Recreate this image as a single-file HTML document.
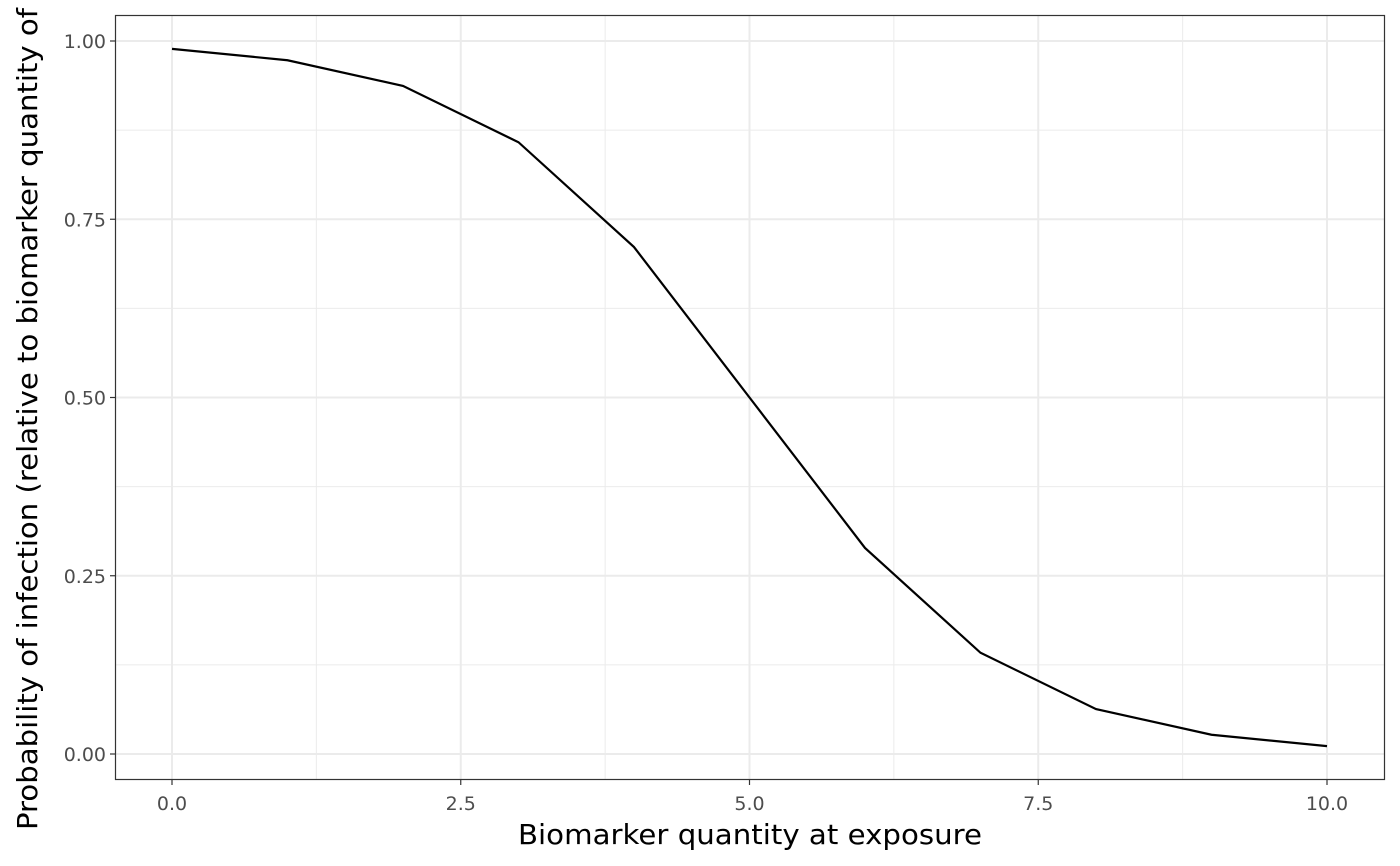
<!DOCTYPE html>
<html><head><meta charset="utf-8"><style>
html,body{margin:0;padding:0;background:#fff;}
svg{display:block;font-family:"DejaVu Sans","Liberation Sans",sans-serif;}
</style></head><body>
<svg id="chart" width="1400" height="866"></svg>
<script>
const xValues=[0,1,2,3,4,5,6,7,8,9,10];
const yValues=[0.989,0.973,0.937,0.858,0.711,0.5,0.289,0.142,0.063,0.027,0.011];
const xTicks=[0,2.5,5,7.5,10];
const xTickLabels=["0.0","2.5","5.0","7.5","10.0"];
const yTicks=[0,0.25,0.5,0.75,1];
const yTickLabels=["0.00","0.25","0.50","0.75","1.00"];
const xMinor=[1.25,3.75,6.25,8.75];
const yMinor=[0.125,0.375,0.625,0.875];

const NS="http://www.w3.org/2000/svg";
const svg=document.getElementById('chart');
const P={l:115,r:1385,t:15,b:780};
const sx=v=>172+v*115.5;
const sy=v=>754-v*713;
function mk(tag,attrs,parent){const e=document.createElementNS(NS,tag);for(const k in attrs)e.setAttribute(k,attrs[k]);(parent||svg).appendChild(e);return e;}

const bg=mk('rect',{x:P.l,y:P.t,width:P.r-P.l,height:P.b-P.t,fill:'#fff'});



xMinor.forEach(v=>{const l=mk('line',{x1:sx(v),x2:sx(v),y1:P.t,y2:P.b,stroke:'#ebebeb','stroke-width':1});

});
yMinor.forEach(v=>{const l=mk('line',{x1:P.l,x2:P.r,y1:sy(v),y2:sy(v),stroke:'#ebebeb','stroke-width':1});

});
xTicks.forEach((v,i)=>{const l=mk('line',{x1:sx(v),x2:sx(v),y1:P.t,y2:P.b,stroke:'#ebebeb','stroke-width':2});


const t=mk('line',{x1:sx(v),x2:sx(v),y1:P.b,y2:P.b+5,stroke:'#333','stroke-width':1.2});


const tx=mk('text',{x:sx(v),y:810,'text-anchor':'middle','font-size':19,fill:'#4d4d4d'});tx.textContent=xTickLabels[i];

});
yTicks.forEach((v,i)=>{const l=mk('line',{x1:P.l,x2:P.r,y1:sy(v),y2:sy(v),stroke:'#ebebeb','stroke-width':2});


const t=mk('line',{x1:P.l-5,x2:P.l,y1:sy(v),y2:sy(v),stroke:'#333','stroke-width':1.2});


const tx=mk('text',{x:P.l-9,y:sy(v)+7,'text-anchor':'end','font-size':19,fill:'#4d4d4d'});tx.textContent=yTickLabels[i];

});

const line=mk('polyline',{points:xValues.map((x,i)=>sx(x)+','+sy(yValues[i])).join(' '),fill:'none',stroke:'#000','stroke-width':2.2});



const border=mk('rect',{x:P.l+0.5,y:P.t+0.5,width:P.r-P.l-1,height:P.b-P.t-1,fill:'none',stroke:'#333','stroke-width':1.2});



const xt=mk('text',{x:750,y:844,'text-anchor':'middle','font-size':28,fill:'#000',textLength:464,lengthAdjust:'spacingAndGlyphs'});xt.textContent='Biomarker quantity at exposure';


const yt=mk('text',{x:0,y:0,'text-anchor':'start','font-size':28,fill:'#000',transform:'translate(37,830) rotate(-90)',textLength:822,lengthAdjust:'spacingAndGlyphs'});yt.textContent='Probability of infection (relative to biomarker quantity of';


</script>
</body></html>
